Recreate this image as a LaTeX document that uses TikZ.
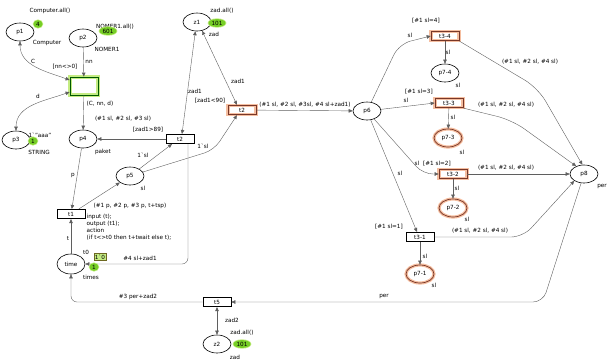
\documentclass[tikz,border=0pt]{standalone}
\usepackage{fontspec}
\setmainfont{DejaVu Sans}
\usepackage{tikz}
\usetikzlibrary{shapes.geometric,arrows.meta,positioning,calc}

\definecolor{tokgreen}{RGB}{118,206,38}
\definecolor{glowgreen}{RGB}{196,236,130}
\definecolor{gloworange}{RGB}{245,190,160}
\definecolor{hotedge}{RGB}{120,55,40}
\definecolor{arcgray}{RGB}{95,95,95}

\begin{document}
\begin{tikzpicture}[
  x=1pt, y=-1pt,
  >={Triangle[length=4pt,width=3.5pt]},
  every node/.style={font=\fontsize{5.7}{7}\selectfont},
  place/.style={draw, ellipse, line width=0.6pt, minimum width=28pt, minimum height=18pt, inner sep=0pt},
  trans/.style={draw, rectangle, line width=0.6pt, minimum width=28pt, minimum height=9.5pt, inner sep=0pt},
  hot/.style={draw=hotedge, line width=0.7pt, preaction={draw=gloworange, line width=3.2pt}},
  busy/.style={draw=green!35!black, line width=0.8pt, preaction={draw=glowgreen, line width=4pt}},
  token/.style={ellipse, fill=tokgreen, inner sep=0.6pt, minimum width=9pt, minimum height=7pt,
                preaction={draw=glowgreen, line width=1.5pt}},
  lbl/.style={inner sep=0.5pt},
  arc/.style={draw=arcgray, ->}
]
\useasboundingbox (0,0) rectangle (608,360);

% places and transitions
\node (p1)   [place] at (20,32)  {p1};
\node (p2)   [place] at (83,38)  {p2};
\node (T0)   [trans, busy, minimum height=18pt] at (84,86) {};
\node (p3)   [place] at (16,140) {p3};
\node (p4)   [place] at (83,139) {p4};
\node (t2b)  [trans] at (180,139) {t2};
\node (p5)   [place] at (130,176) {p5};
\node (t1)   [trans] at (71,214) {t1};
\node (time) [place, minimum height=20pt] at (71,264) {time};
\node (z1)   [place] at (197,22) {z1};
\node (t2a)  [trans, hot] at (242,110) {t2};
\node (p6)   [place] at (367,111) {p6};
\node (t34)  [trans, hot] at (445,36) {t3-4};
\node (p74)  [place] at (445,73) {p7-4};
\node (t33)  [trans, hot] at (449,103) {t3-3};
\node (p73)  [place, hot] at (448,138) {p7-3};
\node (t32)  [trans, hot] at (453,174) {t3-2};
\node (p72)  [place, hot] at (453,208) {p7-2};
\node (t31)  [trans] at (420,237) {t3-1};
\node (p71)  [place, hot] at (420,274) {p7-1};
\node (p8)   [place] at (584,174) {p8};
\node (t5)   [trans] at (217,302) {t5};
\node (z2)   [place] at (217,344) {z2};

% arcs, left part
\draw[arc, <->] (p1.south) to[out=-90, in=160] ([yshift=6pt]T0.west);
\draw[arc, <->] (p3.north) to[out=90, in=200] ([yshift=-6pt]T0.west);
\draw[arc] (p2) -- (T0);
\draw[arc] (T0) -- (p4);
\draw[arc] (p4) -- (t1);
\draw[arc] (t1) -- (p5);
\draw[arc] (time) -- (t1);
\draw[arc] (p5) -- ([xshift=-8pt]t2b.south);
\draw[arc, rounded corners=10pt] (p5) -- (214,150) -- ([xshift=-5pt]t2a.south);
\draw[arc] (t2b) -- (p4);
\draw[arc, <->] ([xshift=2pt]t2b.north) -- (z1.-100);
\draw[arc, <->] ([xshift=-5pt]t2a.north) -- (z1.-60);
\draw[arc, rounded corners=6pt] ([xshift=8pt]t2b.south) |- (time.east);
\draw[arc] (t2a) -- (p6);
\draw[arc, rounded corners=6pt] (t5) -| (time.south);
\draw[arc, rounded corners=10pt] (p8) -- (543,302) -- (t5);
\draw[arc, <->] (t5) -- (z2);

% arcs, right part
\draw[arc, rounded corners=12pt] (p6) -- (399,44) -- (t34.west);
\draw[arc] (p6) -- (t33.west);
\draw[arc, rounded corners=10pt] (p6) -- (423,174) -- (t32.west);
\draw[arc] (p6) -- ([xshift=-3pt]t31.north);
\draw[arc] (t34) -- (p74);
\draw[arc] (t33) -- (p73);
\draw[arc] (t32) -- (p72);
\draw[arc] (t31) -- (p71);
\draw[arc, rounded corners=15pt] (t34.south east) -- (538,88) -- (p8.100);
\draw[arc, rounded corners=15pt] (t33.south east) -- (512,120) -- (p8.135);
\draw[arc] (t32) -- (p8);
\draw[arc, rounded corners=12pt] (t31.east) -- (523,237) -- (p8.215);

% colour sets, initial markings, tokens
\node (cAll)   [lbl] at (50,11)  {Computer.all()};
\node (k1)     [token] at (38,24) {4};
\node (cType)  [lbl] at (47,43)  {Computer};
\node (nAll)   [lbl] at (115,27) {NOMER1.all()};
\node (k2)     [token] at (108,31) {601};
\node (nType)  [lbl] at (107,49) {NOMER1};
\node (sInit)  [lbl] at (40,135) {1\textasciigrave"aaa"};
\node (k3)     [token] at (33,141) {1};
\node (sType)  [lbl] at (39,152) {STRING};
\node (pType)  [lbl] at (103,152) {paket};
\node (slType) [lbl] at (143,188) {sl};
\node (tT0)    [lbl] at (86,252) {t0};
\node (tInit)  [lbl, draw=olive!70!black, fill=glowgreen, inner sep=1pt] at (100,257) {1\textasciigrave 0};
\node (k4)     [token] at (94,267) {1};
\node (tType)  [lbl] at (91,277) {times};
\node (z1All)  [lbl] at (222,11) {zad.all()};
\node (k5)     [token] at (217,23) {101};
\node (z1Type) [lbl] at (214,34) {zad};
\node (z2All)  [lbl] at (242,333) {zad.all()};
\node (k6)     [token] at (242,344) {101};
\node (z2Type) [lbl] at (235,357) {zad};
\node (s74)    [lbl] at (458,85)  {sl};
\node (s73)    [lbl] at (462,152) {sl};
\node (s72)    [lbl] at (467,219) {sl};
\node (s71)    [lbl] at (434,285) {sl};
\node (perType)[lbl] at (602,186) {per};

% guards and code
\node (gT0)  [lbl] at (65,67)   {[nn<>0]};
\node (g2b)  [lbl] at (148,130) {[zad1>89]};
\node (g2a)  [lbl] at (210,101) {[zad1<90]};
\node (g34)  [lbl] at (426,21)  {[\#1 sl=4]};
\node (g33)  [lbl] at (419,92)  {[\#1 sl=3]};
\node (g32)  [lbl] at (437,164) {[\#1 sl=2]};
\node (g31)  [lbl] at (389,227) {[\#1 sl=1]};
\node (code) [lbl, anchor=north west, align=left] at (86,213)
  {input (t);\\output (t1);\\action\\(if t<>t0 then t+twait else t);};

% arc inscriptions
\node (aC)    [lbl] at (33,61)   {C};
\node (ann)   [lbl] at (89,62)   {nn};
\node (aCnnd) [lbl] at (100,104) {(C, nn, d)};
\node (ad)    [lbl] at (38,96)   {d};
\node (a3sl)  [lbl] at (123,119) {(\#1 sl, \#2 sl, \#3 sl)};
\node (aslB)  [lbl] at (143,155) {1\textasciigrave sl};
\node (aslA)  [lbl] at (203,146) {1\textasciigrave sl};
\node (ap)    [lbl] at (73,175)  {p};
\node (a4p)   [lbl] at (130,206) {(\#1 p, \#2 p, \#3 p, t+tsp)};
\node (at)    [lbl] at (68,238)  {t};
\node (a4)    [lbl] at (140,258) {\#4 sl+zad1};
\node (a3)    [lbl] at (138,297) {\#3 per+zad2};
\node (azA)   [lbl] at (195,91)  {zad1};
\node (azB)   [lbl] at (238,81)  {zad1};
\node (a4b)   [lbl] at (305,105) {(\#1 sl, \#2 sl, \#3sl, \#4 sl+zad1)};
\node (as34)  [lbl] at (410,35)  {sl};
\node (ap74)  [lbl] at (448,52)  {sl};
\node (ao34)  [lbl] at (530,62)  {(\#1 sl, \#2 sl, \#4 sl)};
\node (as33)  [lbl] at (406,100) {sl};
\node (ao33)  [lbl] at (506,105) {(\#1 sl, \#2 sl, \#4 sl)};
\node (ap73)  [lbl] at (453,117) {sl};
\node (as32)  [lbl] at (417,163) {sl};
\node (ao32)  [lbl] at (506,168) {(\#1 sl, \#2 sl, \#4 sl)};
\node (ap72)  [lbl] at (457,188) {sl};
\node (as31)  [lbl] at (400,173) {sl};
\node (ao31)  [lbl] at (480,231) {(\#1 sl, \#2 sl, \#4 sl)};
\node (ap71)  [lbl] at (425,256) {sl};
\node (aper)  [lbl] at (384,296) {per};
\node (az2)   [lbl] at (232,320) {zad2};
\end{tikzpicture}
\end{document}
